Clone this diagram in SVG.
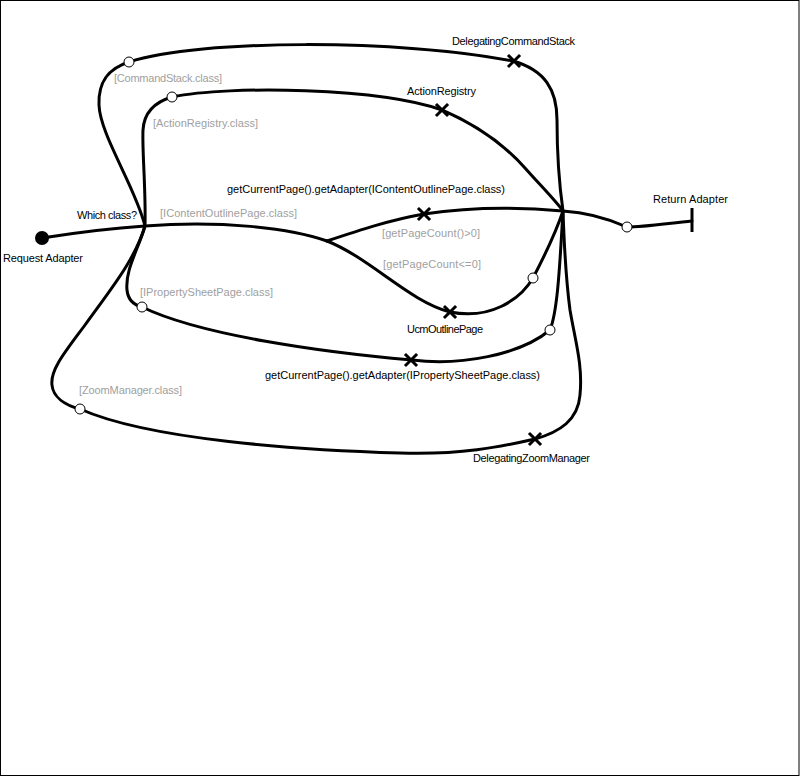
<svg xmlns="http://www.w3.org/2000/svg" width="801" height="777" viewBox="0 0 801 777">
<style>
.path{fill:none;stroke:#000;stroke-width:3;stroke-linecap:round;stroke-linejoin:round}
.wp{fill:#fff;stroke:#000;stroke-width:1}
.resp{stroke:#000;stroke-width:3;stroke-linecap:square}
text{font-family:"Liberation Sans",Arial,sans-serif;font-size:11px;fill:#000}
.cond{fill:#a0a0a0}
</style>
<defs>
<g id="x"><line class="resp" x1="-5" y1="-5" x2="5" y2="5"/><line class="resp" x1="-5" y1="5" x2="5" y2="-5"/></g>
</defs>
<rect x="0.5" y="0.5" width="798.5" height="775" fill="#fff" stroke="#000" stroke-width="1"/>
<g id="connectors">
<path class="path" d="M42,238 C80,232 115,228 145,226"/>
<path class="path" d="M145,226 C136,188 100,135 99,105 C98,80 110,68 129,62"/>
<path class="path" d="M129,62 C200,39 400,39 513,61 C545,70 557,90 557,120 C557,160 560,190 563,211"/>
<path class="path" d="M145,226 C146,190 142,150 143,130 C144,112 155,102 172,97"/>
<path class="path" d="M172,97 C230,85 380,88 442,110 C470,122 500,140 525,168 C540,185 555,200 563,211"/>
<path class="path" d="M145,226 C220,220 290,228 327,241"/>
<path class="path" d="M327,241 C360,230 390,220 424,214 C470,207 520,207 563,211"/>
<path class="path" d="M327,241 C370,258 410,302 450,312 C490,320 520,300 533,278"/>
<path class="path" d="M533,278 C545,255 555,235 563,211"/>
<path class="path" d="M145,226 C138,250 125,270 127,290 C128,300 134,305 142,307"/>
<path class="path" d="M142,307 C200,335 320,352 412,360 C460,366 520,355 550,330"/>
<path class="path" d="M550,330 C558,310 560,260 563,211"/>
<path class="path" d="M145,226 C135,260 110,290 85,325 C65,352 50,370 52,385 C53,397 65,405 80,409"/>
<path class="path" d="M80,409 C150,440 300,450 400,453 C460,455 500,447 535,439 C560,432 578,420 580,395 C583,365 575,340 570,310 C566,280 564,240 563,211"/>
<path class="path" d="M563,211 C580,212 600,215 627,227"/>
<path class="path" d="M627,227 C645,227 670,223 692,221"/>
</g>
<g id="start"><circle cx="42" cy="238" r="7" fill="#000"/><text x="3" y="262" textLength="80">Request Adapter</text></g>
<g id="fork"><text x="77" y="219" textLength="60">Which class?</text></g>
<g id="end"><line x1="692" y1="208" x2="692" y2="232" stroke="#000" stroke-width="3"/><text x="653" y="203" textLength="75">Return Adapter</text></g>
<g id="wp-commandstack"><circle class="wp" cx="129" cy="62" r="5"/><text class="cond" x="114" y="82" textLength="108">[CommandStack.class]</text></g>
<g id="wp-actionregistry"><circle class="wp" cx="172" cy="97" r="5"/><text class="cond" x="153" y="127" textLength="105">[ActionRegistry.class]</text></g>
<g id="cond-contentoutline"><text class="cond" x="160" y="217" textLength="137">[IContentOutlinePage.class]</text></g>
<g id="wp-propertysheet"><circle class="wp" cx="142" cy="307" r="5"/><text class="cond" x="140" y="296" textLength="133">[IPropertySheetPage.class]</text></g>
<g id="wp-zoommanager"><circle class="wp" cx="80" cy="409" r="5"/><text class="cond" x="79" y="394" textLength="103">[ZoomManager.class]</text></g>
<g id="cond-pagecount-gt"><text class="cond" x="382" y="237" textLength="98">[getPageCount()&gt;0]</text></g>
<g id="wp-pagecount-le"><circle class="wp" cx="533" cy="278" r="5"/><text class="cond" x="383" y="268" textLength="98">[getPageCount&lt;=0]</text></g>
<g id="wp-propertysheet-join"><circle class="wp" cx="550" cy="330" r="5"/></g>
<g id="wp-return"><circle class="wp" cx="627" cy="227" r="5"/></g>
<g id="r-delegatingcommandstack"><use href="#x" x="514" y="61"/><text x="452" y="45" textLength="123">DelegatingCommandStack</text></g>
<g id="r-actionregistry"><use href="#x" x="442" y="110"/><text x="407" y="95" textLength="69">ActionRegistry</text></g>
<g id="r-contentoutline"><use href="#x" x="424" y="214"/><text x="227" y="193" textLength="278">getCurrentPage().getAdapter(IContentOutlinePage.class)</text></g>
<g id="r-ucmoutlinepage"><use href="#x" x="450" y="312"/><text x="407" y="333" textLength="76">UcmOutlinePage</text></g>
<g id="r-propertysheet"><use href="#x" x="411" y="360"/><text x="265" y="379" textLength="275">getCurrentPage().getAdapter(IPropertySheetPage.class)</text></g>
<g id="r-delegatingzoommanager"><use href="#x" x="535" y="439"/><text x="473" y="462" textLength="117">DelegatingZoomManager</text></g>
</svg>
